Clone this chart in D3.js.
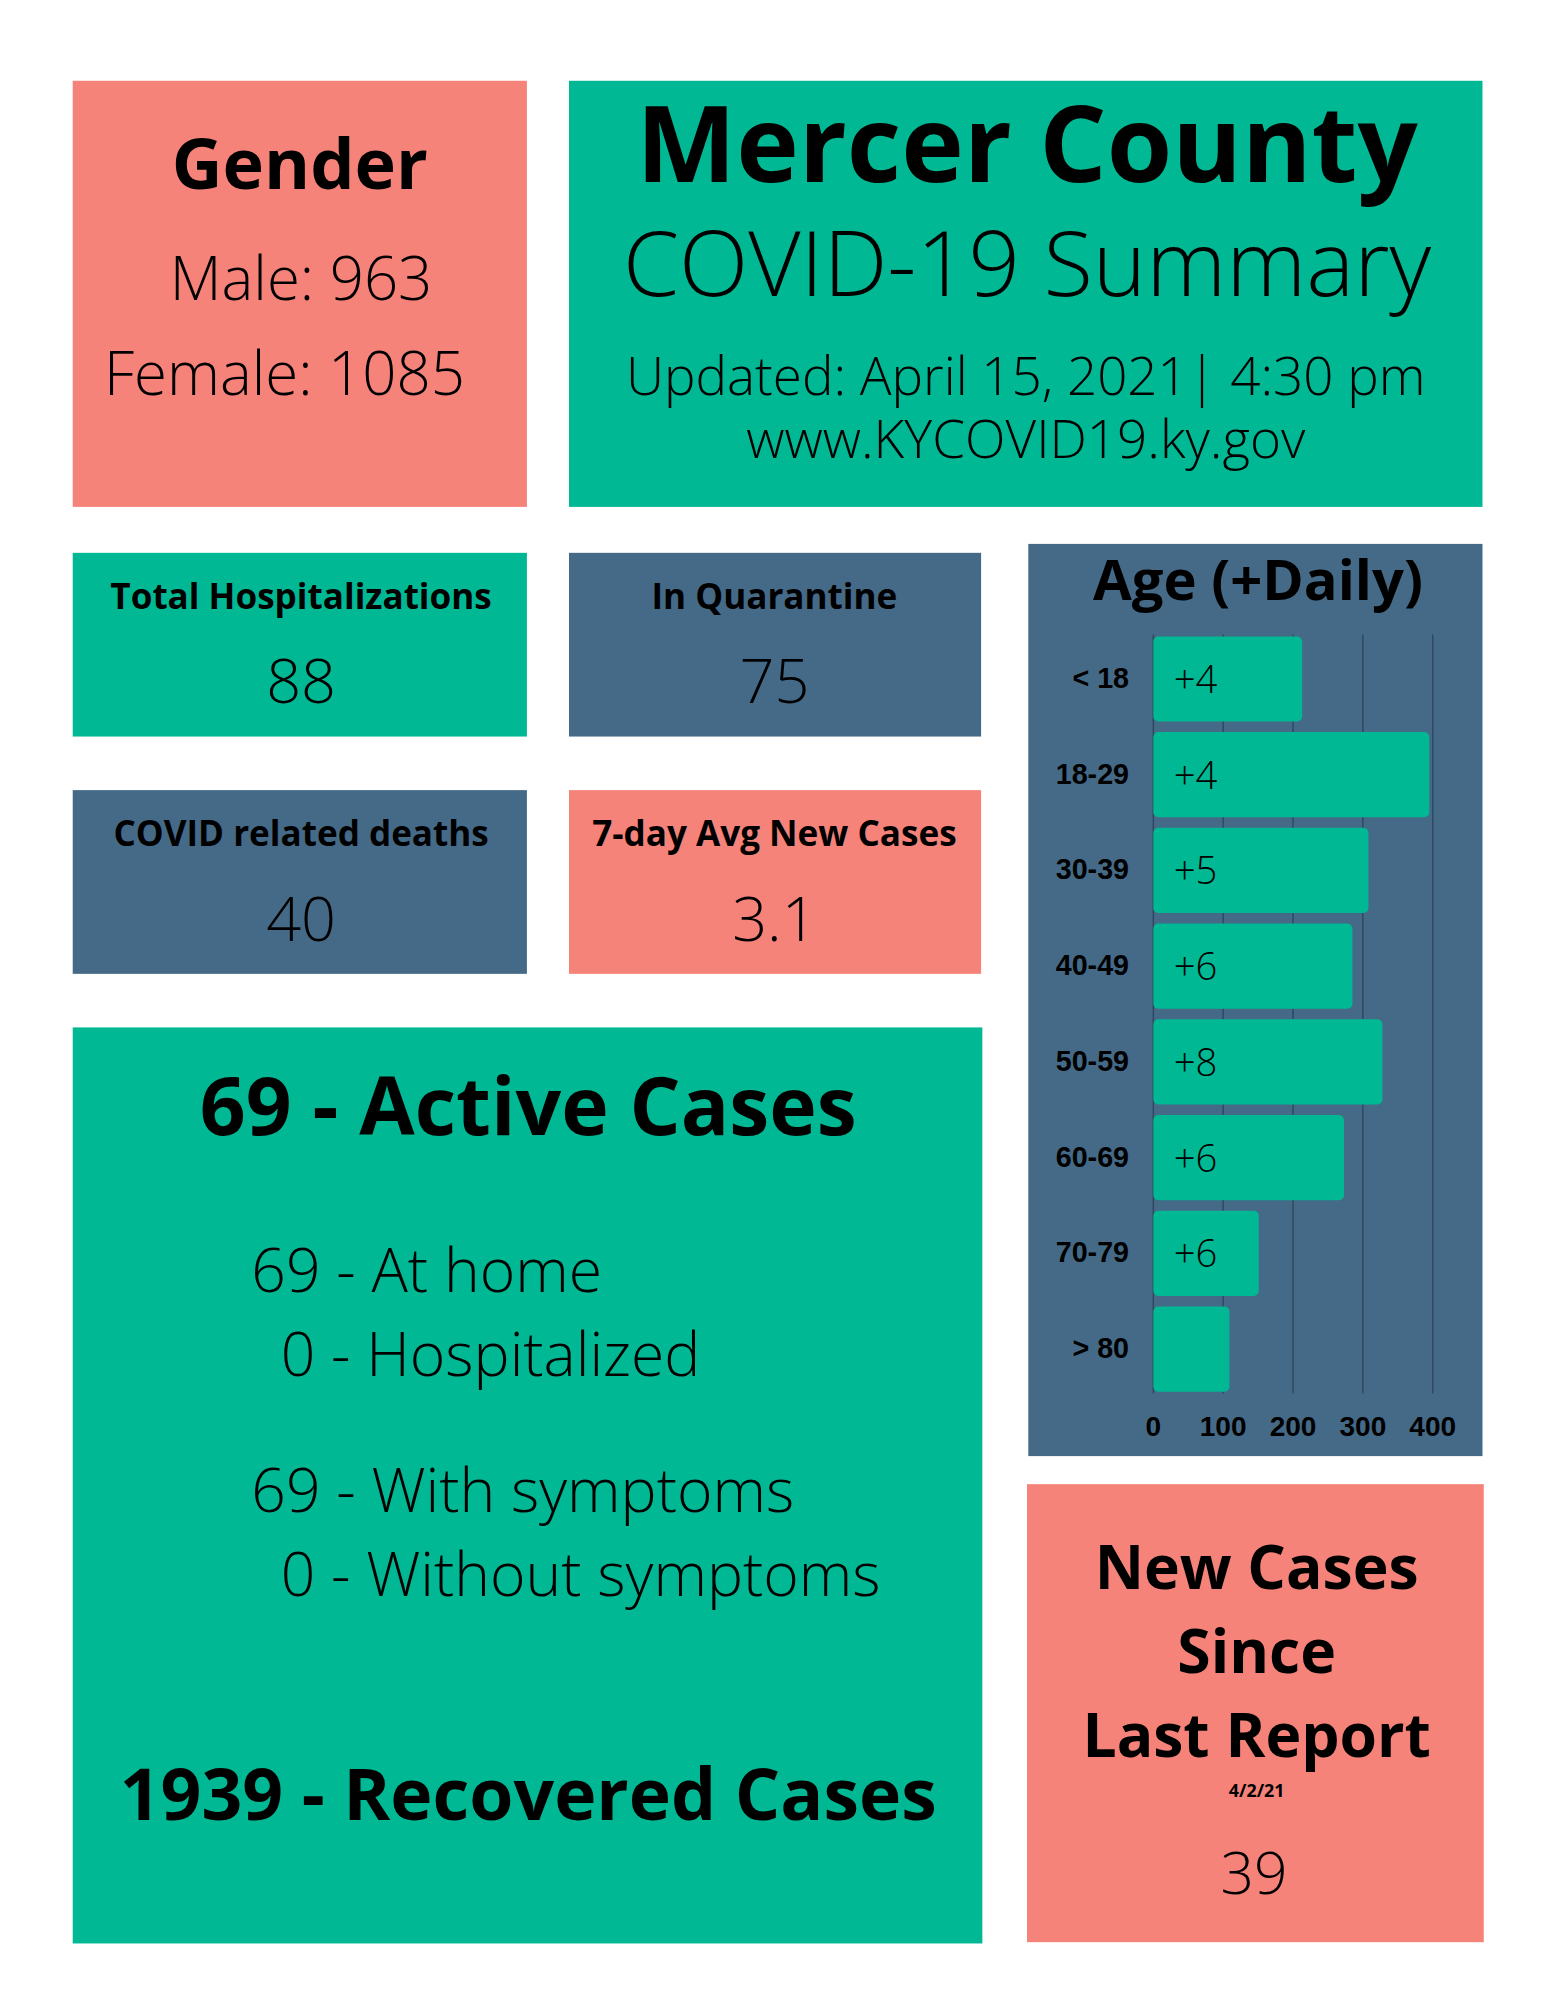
<!DOCTYPE html><html><head><meta charset="utf-8"><script src="https://cdn.jsdelivr.net/npm/d3@7"></script>
<style>body{margin:0;background:#fff}</style></head><body><script>
const ageGroups=["< 18","18-29","30-39","40-49","50-59","60-69","70-79","> 80"];
const ageCounts=[213,395,308,285,328,273,151,109];
const dailyLabels=["+4","+4","+5","+6","+8","+6","+6",""];
const xTicks=[0,100,200,300,400];
const SAL="#F5837A",TEAL="#00B894",SLATE="#456A87";
const svg=d3.select("body").append("svg").attr("width",1545).attr("height",2000).attr("viewBox","0 0 1211 1567");
function box(x,y,w,h,c){svg.append("rect").attr("x",x).attr("y",y).attr("width",w).attr("height",h).attr("fill",c);}
function txt(x,y,s,size,wt,anchor="middle",fam="Open Sans"){return svg.append("text").attr("x",x).attr("y",y).attr("font-family",fam).attr("font-size",size).attr("font-weight",wt).attr("text-anchor",anchor).attr("fill","#000").text(s);}
box(57,63,356,334,SAL);box(446,63,716,334,TEAL);
box(57,433,356,144,TEAL);box(446,433,323,144,SLATE);
box(57,619,356,144,SLATE);box(446,619,323,144,SAL);
box(57,805,713,718,TEAL);box(806,426,356,715,SLATE);box(805,1163,358,359,SAL);
txt(235,148,"Gender",55,700);txt(236,235,"Male: 963",47,300);txt(223,309,"Female: 1085",47,300);
txt(805,142,"Mercer County",83,700);txt(805,232,"COVID-19 Summary",71,300);
txt(804,309,"Updated: April 15, 2021| 4:30 pm",41.5,300);txt(804,359,"www.KYCOVID19.ky.gov",41.5,300);
txt(236,477,"Total Hospitalizations",27.5,700);txt(236,551,"88",48,300);
txt(607,477,"In Quarantine",27.5,700);txt(607,551,"75",48,300);
txt(236,663,"COVID related deaths",27.5,700);txt(236,737,"40",48,300);
txt(607,663,"7-day Avg New Cases",27.5,700);txt(607,737,"3.1",48,300);
txt(414,889,"69 - Active Cases",63,700);
txt(197,1012,"69 - At home",47.5,300,"start");txt(220,1078,"0 - Hospitalized",47.5,300,"start");
txt(197,1185,"69 - With symptoms",47.5,300,"start");txt(220,1251,"0 - Without symptoms",47.5,300,"start");
txt(414,1426,"1939 - Recovered Cases",56,700);
txt(985,1245,"New Cases",47.5,700);txt(985,1311,"Since",47.5,700);txt(985,1377,"Last Report",47.5,700);
txt(985,1408,"4/2/21",14,700);txt(983,1484,"39",46,300);
txt(986,470,"Age (+Daily)",44,700);
const x=d3.scaleLinear().domain([0,400]).range([904,1123]);
const y=d3.scaleBand().domain(ageGroups).range([497,1092]).paddingInner(0.11).paddingOuter(0.02);
svg.append("g").selectAll("line").data(xTicks).join("line").attr("x1",d=>x(d)).attr("x2",d=>x(d)).attr("y1",497).attr("y2",1092).attr("stroke","#2f4a60").attr("stroke-width",1.2);
svg.append("g").selectAll("rect").data(ageCounts).join("rect").attr("x",x(0)).attr("y",(d,i)=>y(ageGroups[i])).attr("width",d=>x(d)-x(0)).attr("height",y.bandwidth()).attr("rx",4).attr("fill",TEAL);
svg.append("g").selectAll("text").data(dailyLabels).join("text").attr("x",920).attr("y",(d,i)=>y(ageGroups[i])+y.bandwidth()/2+11).attr("font-family","Open Sans").attr("font-weight",300).attr("font-size",30).text(d=>d);
svg.append("g").selectAll("text").data(ageGroups).join("text").attr("x",885).attr("y",g=>y(g)+y.bandwidth()/2+7).attr("text-anchor","end").attr("font-family","Liberation Sans").attr("font-weight",700).attr("font-size",22.5).text(d=>d);
svg.append("g").selectAll("text").data(xTicks).join("text").attr("x",d=>x(d)).attr("y",1125).attr("text-anchor","middle").attr("font-family","Liberation Sans").attr("font-weight",700).attr("font-size",22).text(d=>d);
</script></body></html>
